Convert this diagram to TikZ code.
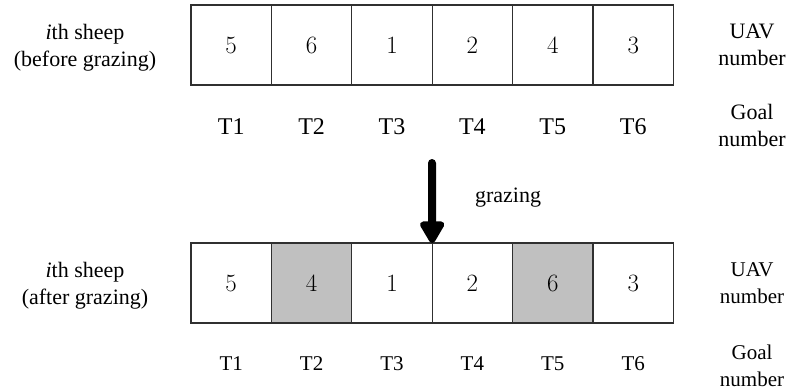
\documentclass[tikz,border=0pt]{standalone}
\usepackage{fontspec}
\setmainfont{Liberation Serif}
\usetikzlibrary{arrows.meta}
\definecolor{edge}{HTML}{303030}
\definecolor{swap}{HTML}{C0C0C0}
\begin{document}
\begin{tikzpicture}[x=1pt,y=1pt,
  cell/.style={draw=edge,line width=1.3pt,minimum width=80.4pt,minimum height=80pt,
    inner sep=0pt,outer sep=0pt,font=\fontsize{25}{30}\selectfont},
  swapped/.style={cell,fill=swap},
  lbl/.style={anchor=base,align=center,inner sep=0pt,font=\fontsize{22}{27}\selectfont},
  goal/.style={anchor=base,inner sep=0pt,font=\fontsize{24}{28}\selectfont},
  small/.style={anchor=base,align=center,inner sep=0pt,font=\fontsize{21}{27}\selectfont},
  bigarrow/.style={line width=8pt,line cap=round,-{Triangle[length=25pt,width=27pt,round=false]}}]
\useasboundingbox (0,0) rectangle (791,389);

% row before grazing
\node[cell] (a1) at (231.2,344) {$5$};
\node[cell] (a2) at (311.6,344) {$6$};
\node[cell] (a3) at (392.0,344) {$1$};
\node[cell] (a4) at (472.4,344) {$2$};
\node[cell] (a5) at (552.8,344) {$4$};
\node[cell] (a6) at (633.2,344) {$3$};

% row after grazing
\node[cell]    (b1) at (231.2,106) {$5$};
\node[swapped] (b2) at (311.6,106) {$4$};
\node[cell]    (b3) at (392.0,106) {$1$};
\node[cell]    (b4) at (472.4,106) {$2$};
\node[swapped] (b5) at (552.8,106) {$6$};
\node[cell]    (b6) at (633.2,106) {$3$};

% goal labels
\foreach \i/\x in {1/231.2,2/311.6,3/392.0,4/472.4,5/552.8,6/633.2}{
  \node[goal] (ta\i) at (\x,255) {T\i};
  \node[small] (tb\i) at (\x,19) {T\i};
}

% left captions (base = baseline of the last line)
\node[lbl] (capa) at (85,322) {\textit{i}th sheep\\(before grazing)};
\node[lbl] (capb) at (85,85) {\textit{i}th sheep\\(after grazing)};

% right captions
\node[lbl] (uava) at (752,323) {UAV\\number};
\node[lbl] (goala) at (752,243) {Goal\\number};
\node[small] (uavb) at (752,86) {UAV\\number};
\node[small] (goalb) at (752,3) {Goal\\number};

% grazing step
\coordinate (start) at (432,226);
\draw[bigarrow] (start) -- (b3.north east);
\node[lbl] (graze) at (508,187) {grazing};
\end{tikzpicture}
\end{document}
